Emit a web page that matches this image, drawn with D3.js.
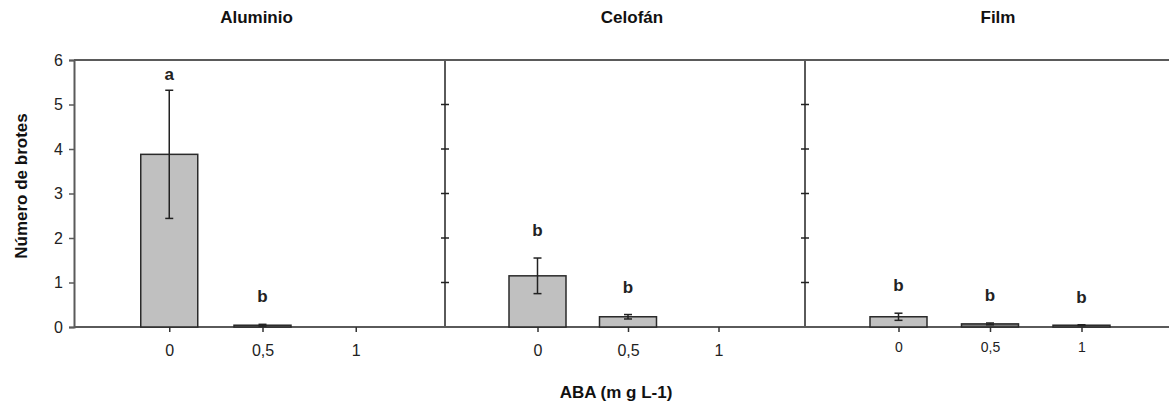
<!DOCTYPE html>
<html>
<head>
<meta charset="utf-8">
<script src="https://cdn.jsdelivr.net/npm/d3@7"></script>
<style>
  body { margin: 0; background: #fff; }
  svg { display: block; font-family: 'Liberation Sans', Arial, sans-serif; }
</style>
</head>
<body>
<svg id="chart" width="1169" height="406"></svg>
<script>
const panels = ['Aluminio', 'Celofán', 'Film'];
const doses = ['0', '0,5', '1'];
const yTicks = [0, 1, 2, 3, 4, 5, 6];

// mean number of shoots per panel, by dose
const aluminioMeans = [3.88, 0.04, 0];
const celofanMeans = [1.15, 0.23, 0];
const filmMeans = [0.23, 0.07, 0.04];

// standard error
const aluminioErr = [1.44, 0.02, 0];
const celofanErr = [0.4, 0.05, 0];
const filmErr = [0.08, 0.02, 0.01];

// significance letters
const aluminioLetters = ['a', 'b', ''];
const celofanLetters = ['b', 'b', ''];
const filmLetters = ['b', 'b', 'b'];

const means = [aluminioMeans, celofanMeans, filmMeans];
const errs = [aluminioErr, celofanErr, filmErr];
const letters = [aluminioLetters, celofanLetters, filmLetters];

const svg = d3.select('#chart');
const plotTop = 60, plotBottom = 327;
const panelEdges = [74, 445, 805, 1169];
const titleShift = [-6, 4, 8];
const axisColor = '#5a5a5a';
const textColor = '#222';

const y = d3.scaleLinear().domain([0, 6]).range([plotBottom, plotTop]);

// y axis on the left
const yAxis = svg.append('g')
  .attr('transform', 'translate(' + panelEdges[0] + ',0)')
  .call(d3.axisLeft(y).tickValues(yTicks).tickFormat(d3.format('d')).tickSize(5).tickPadding(6));
yAxis.select('.domain').attr('stroke', axisColor).attr('stroke-width', 2);
yAxis.selectAll('.tick line').attr('stroke', axisColor).attr('stroke-width', 1.5);
yAxis.selectAll('.tick text')
  .attr('fill', textColor)
  .style('font-size', '16px');

// frame: top line and bottom axis line across all panels
svg.append('line')
  .attr('x1', panelEdges[0]).attr('x2', panelEdges[3])
  .attr('y1', plotTop).attr('y2', plotTop)
  .attr('stroke', axisColor).attr('stroke-width', 2);
svg.append('line')
  .attr('x1', panelEdges[0]).attr('x2', panelEdges[3])
  .attr('y1', plotBottom).attr('y2', plotBottom)
  .attr('stroke', axisColor).attr('stroke-width', 2);

// dividers with small cross ticks
[panelEdges[1], panelEdges[2]].forEach(function (xd) {
  svg.append('line')
    .attr('x1', xd).attr('x2', xd)
    .attr('y1', plotTop).attr('y2', plotBottom)
    .attr('stroke', axisColor).attr('stroke-width', 2);
  svg.selectAll(null)
    .data(yTicks.slice(1, -1))
    .enter().append('line')
    .attr('x1', xd - 4).attr('x2', xd + 4)
    .attr('y1', d => y(d)).attr('y2', d => y(d))
    .attr('stroke', '#222').attr('stroke-width', 1.5);
});

panels.forEach(function (name, i) {
  const x0 = panelEdges[i], x1 = panelEdges[i + 1];
  const x = d3.scalePoint().domain(doses).range([x0 + 2, x1 + 4]).padding(1);
  const barW = 57;
  const g = svg.append('g');

  // x axis ticks and labels
  const xAxis = g.append('g')
    .attr('transform', 'translate(0,' + plotBottom + ')')
    .call(d3.axisBottom(x).tickSize(5).tickPadding(i === 2 ? 10 : 13));
  xAxis.select('.domain').remove();
  xAxis.selectAll('.tick line').attr('stroke', '#333').attr('stroke-width', 1.5);
  xAxis.selectAll('.tick text')
    .attr('fill', textColor)
    .style('font-size', i === 2 ? '14px' : '16px');

  const rows = doses.map((d, j) => ({ dose: d, mean: means[i][j], err: errs[i][j], letter: letters[i][j] }));

  // bars
  g.selectAll('rect.bar')
    .data(rows.filter(r => r.mean > 0))
    .enter().append('rect')
    .attr('class', 'bar')
    .attr('x', r => x(r.dose) - barW / 2)
    .attr('width', barW)
    .attr('y', r => y(r.mean))
    .attr('height', r => y(0) - y(r.mean))
    .attr('fill', r => r.mean < 0.1 ? '#777' : '#c0c0c0')
    .attr('stroke', '#2a2a2a')
    .attr('stroke-width', 1.5);

  // error bars
  const eb = g.selectAll('g.err')
    .data(rows.filter(r => r.err > 0))
    .enter().append('g').attr('class', 'err');
  eb.append('line')
    .attr('x1', r => x(r.dose)).attr('x2', r => x(r.dose))
    .attr('y1', r => y(r.mean + r.err)).attr('y2', r => y(Math.max(0, r.mean - r.err)))
    .attr('stroke', '#222').attr('stroke-width', 1.5);
  eb.selectAll('line.cap')
    .data(r => [r.mean + r.err, Math.max(0, r.mean - r.err)].map(v => ({ dose: r.dose, v: v })))
    .enter().append('line')
    .attr('class', 'cap')
    .attr('x1', c => x(c.dose) - 4).attr('x2', c => x(c.dose) + 4)
    .attr('y1', c => y(c.v)).attr('y2', c => y(c.v))
    .attr('stroke', '#222').attr('stroke-width', 1.5);

  // letters, kept clear of the top frame line
  g.selectAll('text.letter')
    .data(rows.filter(r => r.letter))
    .enter().append('text')
    .attr('class', 'letter')
    .attr('x', r => x(r.dose))
    .attr('y', r => Math.max(plotTop + 20, y(r.mean + r.err) - 22))
    .attr('text-anchor', 'middle')
    .attr('fill', textColor)
    .style('font-size', '17px')
    .style('font-weight', 'bold')
    .text(r => r.letter);

  // panel title
  svg.append('text')
    .attr('x', x(doses[1]) + titleShift[i])
    .attr('y', 23)
    .attr('text-anchor', 'middle')
    .attr('fill', '#111')
    .style('font-size', '17px')
    .style('font-weight', 'bold')
    .text(name);
});

// axis titles
svg.append('text')
  .attr('transform', 'translate(27,' + 186 + ') rotate(-90)')
  .attr('text-anchor', 'middle')
  .attr('fill', '#111')
  .style('font-size', '17px')
  .style('font-weight', 'bold')
  .text('Número de brotes');

svg.append('text')
  .attr('x', 616)
  .attr('y', 398)
  .attr('text-anchor', 'middle')
  .attr('fill', '#111')
  .style('font-size', '17px')
  .style('font-weight', 'bold')
  .text('ABA (m g L-1)');
</script>
</body>
</html>
